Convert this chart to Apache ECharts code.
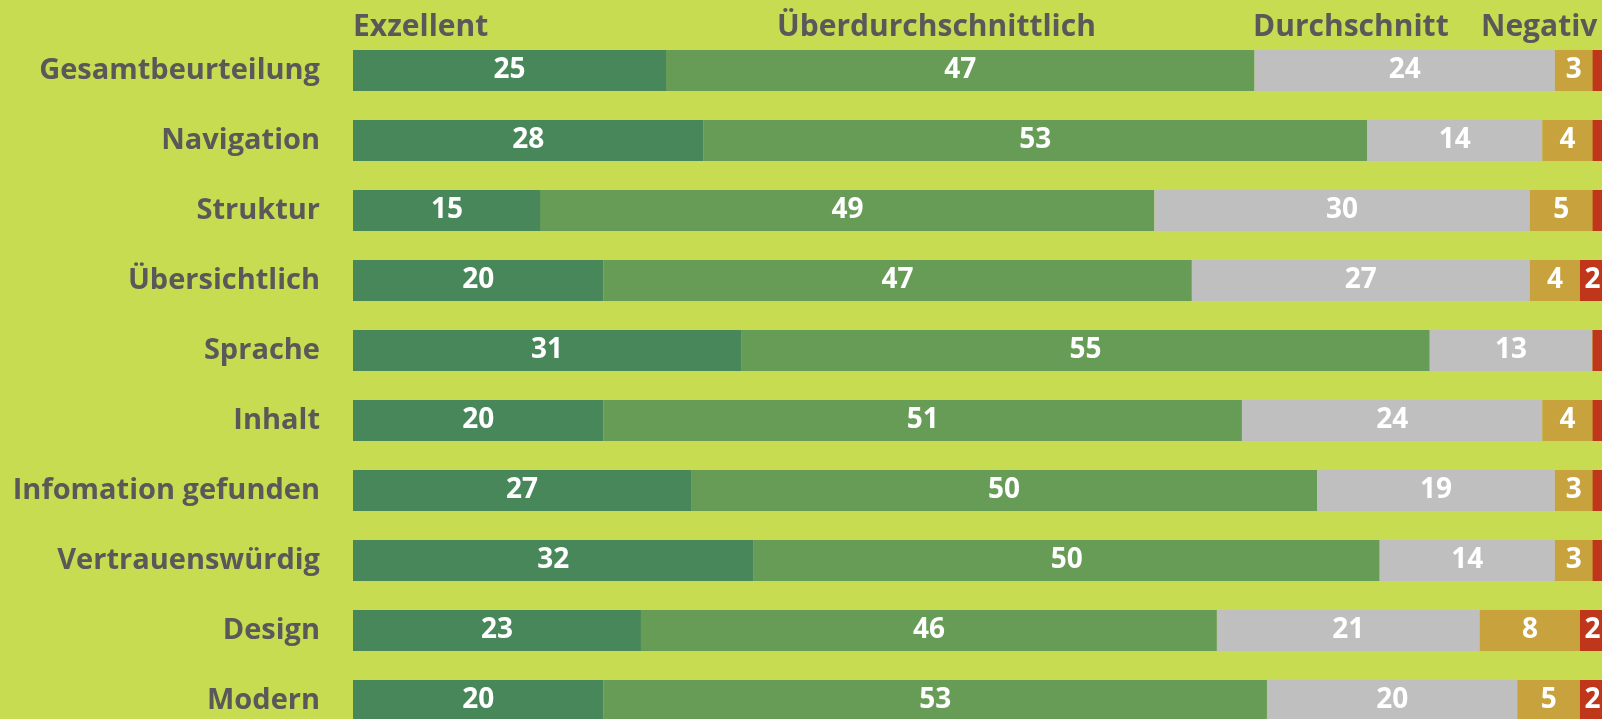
<!DOCTYPE html>
<html>
<head>
<meta charset="utf-8">
<script src="https://cdn.jsdelivr.net/npm/echarts@6/dist/echarts.min.js"></script>
<style>
  html, body { margin: 0; padding: 0; background: #C8DC52; }
  #chart { width: 1602px; height: 719px; }
</style>
</head>
<body>
<div id="chart"></div>
<script>
const categories = ['Gesamtbeurteilung', 'Navigation', 'Struktur', 'Übersichtlich', 'Sprache',
    'Inhalt', 'Infomation gefunden', 'Vertrauenswürdig', 'Design', 'Modern'];
const seriesNames = ['Exzellent', 'Überdurchschnittlich', 'Durchschnitt', 'Negativ', 'Sehr negativ'];
const exzellent = [25, 28, 15, 20, 31, 20, 27, 32, 23, 20];
const ueberdurchschnittlich = [47, 53, 49, 47, 55, 51, 50, 50, 46, 53];
const durchschnitt = [24, 14, 30, 27, 13, 24, 19, 14, 21, 20];
const negativ = [3, 4, 5, 4, 0, 4, 3, 3, 8, 5];
const sehrNegativ = [1, 1, 1, 2, 1, 1, 1, 1, 2, 2];
const colors = ['#48875A', '#679C57', '#BFBFBF', '#C8A33D', '#C0361B'];
// header x positions (the original has free text boxes above the first bar)
const headerX = [353, 777, 1253, 1481];

const font = '"Open Sans", sans-serif';
const myChart = echarts.init(document.getElementById('chart'));

const values = [exzellent, ueberdurchschnittlich, durchschnitt, negativ, sehrNegativ];

myChart.setOption({
    backgroundColor: '#C8DC52',
    animation: false,
    // plot runs slightly past the right and bottom edges, like the cropped original
    grid: {left: 353, top: 35.5, width: 1252, height: 700, containLabel: false, outerBoundsMode: 'none'},
    xAxis: {
        type: 'value',
        min: 0,
        max: 100,
        show: false
    },
    yAxis: {
        type: 'category',
        data: categories,
        inverse: true,
        axisLine: {show: false},
        axisTick: {show: false},
        splitLine: {show: false},
        axisLabel: {
            margin: 33,
            color: '#595959',
            fontFamily: font,
            fontWeight: 'bold',
            fontSize: 29
        }
    },
    graphic: seriesNames.slice(0, 4).map((name, i) => ({
        type: 'text',
        x: headerX[i],
        y: 27,
        style: {
            text: name,
            fill: '#595959',
            font: 'bold 30px ' + font,
            verticalAlign: 'middle'
        }
    })),
    series: values.map((data, i) => ({
        name: seriesNames[i],
        type: 'bar',
        stack: 'total',
        barWidth: 41,
        data: data,
        itemStyle: {color: colors[i]},
        label: {
            show: true,
            position: 'inside',
            color: '#fff',
            fontFamily: font,
            fontWeight: 'bold',
            fontSize: 28,
            formatter: p => (p.value >= 2 ? p.value : '')
        }
    }))
});
</script>
</body>
</html>
